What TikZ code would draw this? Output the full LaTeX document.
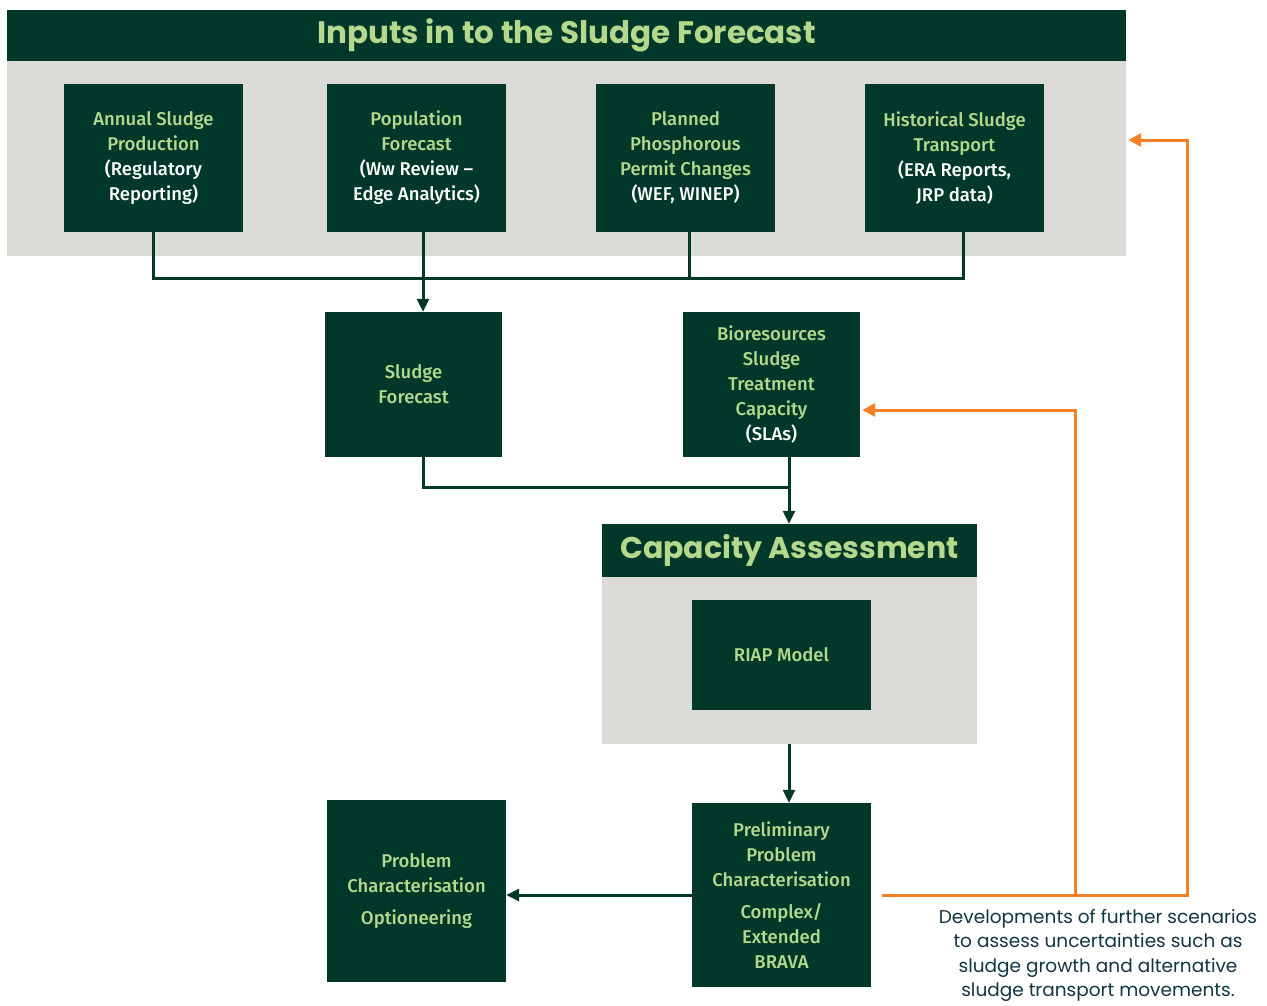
\documentclass[tikz,border=0pt]{standalone}
\usepackage{fontspec}
\usetikzlibrary{arrows.meta}
\setmainfont{Fira Sans}[UprightFont=* Medium]
\newfontfamily\headfont{Poppins}
\definecolor{sfDark}{HTML}{02382A}
\definecolor{sfLeaf}{HTML}{B4D98C}
\definecolor{sfPanel}{HTML}{DCDAD6}
\definecolor{sfOrange}{HTML}{F58025}
\definecolor{sfNote}{HTML}{123542}
\newcommand{\sfWhite}[1]{\textcolor{white}{#1}}

\begin{document}
\begin{tikzpicture}[x=1pt,y=-1pt,
  panel/.style={fill=sfPanel, inner sep=0pt},
  titlebar/.style={fill=sfDark, text=sfLeaf, inner sep=0pt, font=\headfont\bfseries\fontsize{31}{35}\selectfont},
  box/.style={fill=sfDark, text=sfLeaf, inner sep=0pt, minimum width=179, align=center, font=\fontsize{18.5}{25}\selectfont},
  link/.style={draw=sfDark, line width=3pt},
  linkto/.style={link, -{Triangle[length=13pt,width=12pt]}},
  loop/.style={draw=sfOrange, line width=3pt, -{Triangle[length=13pt,width=13pt]}}]
\useasboundingbox (0,0) rectangle (1267,1005);

\node[panel, minimum width=1119, minimum height=195] (inpanel) at (566.5,158.5) {};
\node[titlebar, minimum width=1119, minimum height=51] (intitle) at (566.5,35.5) {Inputs in to the Sludge Forecast};

\node[box, minimum height=148] (in1) at (153.5,158) {Annual Sludge\\Production\\\sfWhite{(Regulatory}\\\sfWhite{Reporting)}};
\node[box, minimum height=148] (in2) at (416.5,158) {Population\\Forecast\\\sfWhite{(Ww Review --}\\\sfWhite{Edge Analytics)}};
\node[box, minimum height=148] (in3) at (685.5,158) {Planned\\Phosphorous\\Permit Changes\\\sfWhite{(WEF, WINEP)}};
\node[box, minimum height=148] (in4) at (954.5,158) {Historical Sludge\\Transport\\\sfWhite{(ERA Reports,}\\\sfWhite{JRP data)}};

\node[box, minimum width=177, minimum height=145] (forecast) at (413.5,384.5) {Sludge\\Forecast};
\node[box, minimum width=177, minimum height=145] (bio) at (771.5,384.5) {Bioresources\\Sludge\\Treatment\\Capacity\\\sfWhite{(SLAs)}};

\node[panel, minimum width=375, minimum height=167] (capanel) at (789.5,660.5) {};
\node[titlebar, minimum width=375, minimum height=53, font=\headfont\bfseries\fontsize{30}{34}\selectfont] (catitle) at (789.5,550.5) {Capacity Assessment};
\node[box, minimum height=110] (riap) at (781.5,655) {RIAP Model};

\node[box, minimum height=184] (prelim) at (781.5,895) {Preliminary\\Problem\\Characterisation\\[7pt]Complex/\\Extended\\BRAVA};
\node[box, minimum height=182] (problem) at (416.5,891) {Problem\\Characterisation\\[7pt]Optioneering};

\node[text=sfNote, align=center, inner sep=0pt, anchor=north, font=\headfont\fontsize{18.5}{24.5}\selectfont] (note) at (1098,909) {Developments of further scenarios\\to assess uncertainties such as\\sludge growth and alternative\\sludge transport movements.};

\coordinate (bus) at (423,278);
\coordinate (join) at (789,487);
\coordinate (loopR) at (1187,895);
\coordinate (loopM) at (1075,895);

\draw[link] (in1.south) |- ([xshift=8.5]in4.south |- bus) -- ([xshift=8.5]in4.south);
\draw[link] ([xshift=3.5]in3.south) -- ([xshift=3.5]in3.south |- bus);
\draw[linkto] ([xshift=6.5]in2.south) -- ([xshift=6.5]in2.south |- forecast.north);
\draw[link] ([xshift=9.5]forecast.south) |- (join);
\draw[linkto] ([xshift=17.5]bio.south) -- ([xshift=17.5]bio.south |- catitle.north);
\draw[linkto] ([xshift=-0.5]capanel.south) -- ([xshift=-0.5]capanel.south |- prelim.north);
\draw[linkto] (prelim.west) -- (prelim.west -| problem.east);

\draw[loop] ([xshift=11]prelim.east) -- (loopR) |- ([xshift=2]inpanel.east |- 0,140);
\draw[loop] (loopM) |- ([xshift=2]bio.east |- 0,410);
\end{tikzpicture}
\end{document}
